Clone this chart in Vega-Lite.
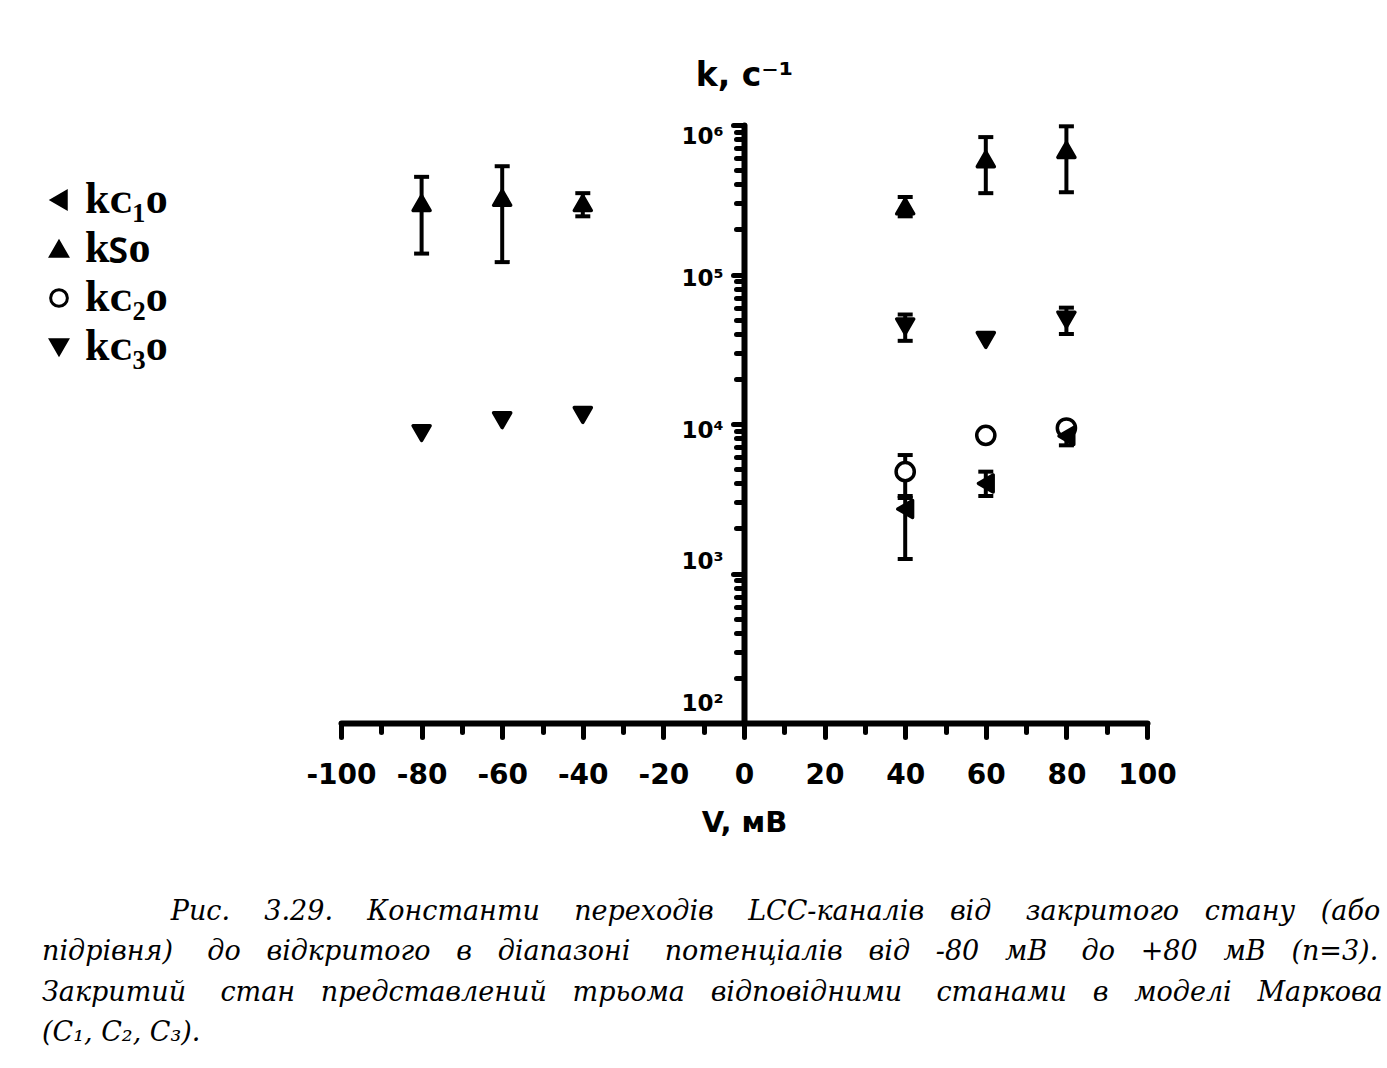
{
  "$schema": "https://vega.github.io/schema/vega-lite/v6.json",
  "width": 806,
  "height": 598,
  "autosize": "none",
  "padding": {"left": 341, "top": 125, "right": 240, "bottom": 345},
  "background": "white",
  "config": {
    "view": {"stroke": null},
    "axis": {"grid": false, "domainColor": "black", "tickColor": "black", "labelColor": "black", "titleColor": "black"}
  },
  "title": {
    "text": [
      "\u200b\u00a0\u00a0\u00a0\u00a0\u00a0\u00a0\u00a0\u00a0\u00a0\u00a0\u00a0\u00a0\u00a0\u00a0\u00a0Рис. \u00a0\u00a0\u00a03.29. \u00a0\u00a0\u00a0Константи \u00a0\u00a0\u00a0переходів \u00a0\u00a0\u00a0LCC-каналів \u00a0\u00a0від \u00a0\u00a0\u00a0закритого \u00a0\u00a0стану \u00a0\u00a0(або",
      "підрівня) \u00a0\u00a0\u00a0до \u00a0\u00a0відкритого \u00a0\u00a0в \u00a0\u00a0діапазоні \u00a0\u00a0\u00a0потенціалів \u00a0\u00a0від \u00a0\u00a0-80 \u00a0\u00a0мВ \u00a0\u00a0\u00a0до \u00a0\u00a0+80 \u00a0\u00a0мВ \u00a0\u00a0(n=3).",
      "Закритий \u00a0\u00a0\u00a0стан \u00a0\u00a0представлений \u00a0\u00a0трьома \u00a0\u00a0відповідними \u00a0\u00a0\u00a0станами \u00a0\u00a0в \u00a0\u00a0моделі \u00a0\u00a0Маркова",
      "(C₁, C₂, C₃)."
    ],
    "orient": "bottom",
    "anchor": "start",
    "frame": "group",
    "font": "DejaVu Serif",
    "fontStyle": "italic",
    "fontWeight": "normal",
    "fontSize": 27,
    "lineHeight": 40.3,
    "color": "black",
    "dx": -299,
    "offset": 62
  },
  "data": {
    "values": [
      {"V": -80, "s": "SO", "k": 300000, "lo": 138000, "hi": 450000},
      {"V": -60, "s": "SO", "k": 325000, "lo": 121000, "hi": 530000},
      {"V": -40, "s": "SO", "k": 300000, "lo": 245000, "hi": 350000},
      {"V": 40, "s": "SO", "k": 285000, "lo": 245000, "hi": 330000},
      {"V": 60, "s": "SO", "k": 590000, "lo": 350000, "hi": 830000},
      {"V": 80, "s": "SO", "k": 680000, "lo": 355000, "hi": 980000},
      {"V": -80, "s": "C3O", "k": 8700, "lo": null, "hi": null},
      {"V": -60, "s": "C3O", "k": 10600, "lo": null, "hi": null},
      {"V": -40, "s": "C3O", "k": 11500, "lo": null, "hi": null},
      {"V": 40, "s": "C3O", "k": 45000, "lo": 36000, "hi": 54000},
      {"V": 60, "s": "C3O", "k": 36500, "lo": null, "hi": null},
      {"V": 80, "s": "C3O", "k": 50000, "lo": 40000, "hi": 60000},
      {"V": 40, "s": "C2O", "k": 4800, "lo": 3300, "hi": 6200},
      {"V": 60, "s": "C2O", "k": 8400, "lo": null, "hi": null},
      {"V": 80, "s": "C2O", "k": 9400, "lo": null, "hi": null},
      {"V": 40, "s": "C1O", "k": 2700, "lo": 1250, "hi": 3200},
      {"V": 60, "s": "C1O", "k": 4000, "lo": 3300, "hi": 4800},
      {"V": 80, "s": "C1O", "k": 8300, "lo": 7200, "hi": 9300}
    ]
  },
  "layer": [
    {
      "transform": [{"filter": "datum.lo != null"}],
      "mark": {"type": "rule", "strokeWidth": 4, "color": "black", "opacity": 1},
      "encoding": {
        "x": {
          "field": "V", "type": "quantitative",
          "scale": {"domain": [-100, 100], "nice": false, "zero": false},
          "axis": {
            "orient": "bottom",
            "values": [-100, -80, -60, -40, -20, 0, 20, 40, 60, 80, 100],
            "labelExpr": "datum.value + ''",
            "domainWidth": 6, "domainCap": "round",
            "tickSize": 14, "tickWidth": 5, "tickCap": "round",
            "labelFont": "DejaVu Sans", "labelFontWeight": "bold", "labelFontSize": 28,
            "labelPadding": 24, "labelFlush": false, "labelOverlap": false,
            "title": "V, мВ",
            "titleFont": "DejaVu Sans", "titleFontWeight": "bold", "titleFontSize": 29,
            "titleBaseline": "middle", "titleY": 99
          }
        },
        "y": {
          "field": "lo", "type": "quantitative", "title": "k, с⁻¹",
          "scale": {"type": "log", "domain": [100, 1000000], "nice": false},
          "axis": {
            "orient": "left",
            "offset": -403,
            "values": [100, 200, 300, 400, 500, 600, 700, 800, 900, 1000, 2000, 3000, 4000, 5000, 6000, 7000, 8000, 9000, 10000, 20000, 30000, 40000, 50000, 60000, 70000, 80000, 90000, 100000, 200000, 300000, 400000, 500000, 600000, 700000, 800000, 900000, 1000000],
            "labelExpr": "datum.value == 100 ? '10²' : datum.value == 1000 ? '10³' : datum.value == 10000 ? '10⁴' : datum.value == 100000 ? '10⁵' : datum.value == 1000000 ? '10⁶' : ''",
            "labelOffset": {"condition": [
              {"test": "datum.value == 1000000", "value": 11},
              {"test": "datum.value == 100000", "value": 4},
              {"test": "datum.value == 10000", "value": 6},
              {"test": "datum.value == 1000", "value": -12},
              {"test": "datum.value == 100", "value": -20}
            ], "value": 0},
            "domainWidth": 6, "domainCap": "round",
            "tickSize": {"condition": {"test": "datum.value == 100 || datum.value == 1000 || datum.value == 10000 || datum.value == 100000 || datum.value == 1000000", "value": 11}, "value": 8},
            "tickWidth": 5, "tickCap": "round",
            "labelFont": "DejaVu Sans", "labelFontWeight": "bold", "labelFontSize": 23,
            "labelPadding": 10, "labelFlush": false, "labelOverlap": false,
            "titleAngle": 0, "titleX": 0, "titleY": -50,
            "titleAlign": "center", "titleBaseline": "middle",
            "titleFont": "DejaVu Sans", "titleFontWeight": "bold", "titleFontSize": 33
          }
        },
        "y2": {"field": "hi"}
      }
    },
    {
      "transform": [{"filter": "datum.lo != null"}],
      "mark": {"type": "tick", "orient": "horizontal", "size": 15, "thickness": 4, "color": "black", "opacity": 1},
      "encoding": {
        "x": {
          "field": "V", "type": "quantitative",
          "axis": {
            "orient": "bottom",
            "values": [-90, -70, -50, -30, -10, 10, 30, 50, 70, 90],
            "labels": false, "domain": false,
            "tickSize": 9, "tickWidth": 5, "tickCap": "round",
            "title": null
          }
        },
        "y": {"field": "lo", "type": "quantitative", "title": "k, с⁻¹"}
      }
    },
    {
      "transform": [{"filter": "datum.lo != null"}],
      "mark": {"type": "tick", "orient": "horizontal", "size": 15, "thickness": 4, "color": "black", "opacity": 1},
      "encoding": {
        "x": {"field": "V", "type": "quantitative", "axis": null},
        "y": {"field": "hi", "type": "quantitative", "title": "k, с⁻¹"}
      }
    },
    {
      "mark": {"type": "point", "strokeWidth": 3.5, "strokeJoin": "round", "opacity": 1, "fillOpacity": 1, "strokeOpacity": 1},
      "encoding": {
        "x": {"field": "V", "type": "quantitative", "axis": null},
        "y": {"field": "k", "type": "quantitative", "title": "k, с⁻¹"},
        "shape": {
          "field": "s", "type": "nominal",
          "scale": {"domain": ["C1O", "SO", "C2O", "C3O"], "range": ["triangle-left", "triangle-up", "circle", "triangle-down"]},
          "legend": {
            "title": null, "orient": "none", "legendX": -304, "legendY": 53,
            "symbolSize": 280, "symbolStrokeWidth": 3,
            "labelFont": "Liberation Serif", "labelFontWeight": "bold", "labelFontSize": 44, "labelColor": "black",
            "labelOffset": 4, "rowPadding": 5,
            "labelExpr": "datum.value == 'C1O' ? 'kᴄ₁ᴏ' : datum.value == 'SO' ? 'kꜱᴏ' : datum.value == 'C2O' ? 'kᴄ₂ᴏ' : 'kᴄ₃ᴏ'"
          }
        },
        "fill": {
          "field": "s", "type": "nominal",
          "scale": {"domain": ["C1O", "SO", "C2O", "C3O"], "range": ["black", "black", "white", "black"]},
          "legend": {
            "title": null, "orient": "none", "legendX": -304, "legendY": 53,
            "symbolSize": 280, "symbolStrokeWidth": 3,
            "labelFont": "Liberation Serif", "labelFontWeight": "bold", "labelFontSize": 44, "labelColor": "black",
            "labelOffset": 4, "rowPadding": 5,
            "labelExpr": "datum.value == 'C1O' ? 'kᴄ₁ᴏ' : datum.value == 'SO' ? 'kꜱᴏ' : datum.value == 'C2O' ? 'kᴄ₂ᴏ' : 'kᴄ₃ᴏ'"
          }
        },
        "stroke": {
          "field": "s", "type": "nominal",
          "scale": {"domain": ["C1O", "SO", "C2O", "C3O"], "range": ["black", "black", "black", "black"]},
          "legend": {
            "title": null, "orient": "none", "legendX": -304, "legendY": 53,
            "symbolSize": 280, "symbolStrokeWidth": 3,
            "labelFont": "Liberation Serif", "labelFontWeight": "bold", "labelFontSize": 44, "labelColor": "black",
            "labelOffset": 4, "rowPadding": 5,
            "labelExpr": "datum.value == 'C1O' ? 'kᴄ₁ᴏ' : datum.value == 'SO' ? 'kꜱᴏ' : datum.value == 'C2O' ? 'kᴄ₂ᴏ' : 'kᴄ₃ᴏ'"
          }
        },
        "size": {"condition": {"test": "datum.s == 'C2O'", "value": 330}, "value": 290}
      }
    }
  ],
  "resolve": {"axis": {"x": "independent"}}
}
